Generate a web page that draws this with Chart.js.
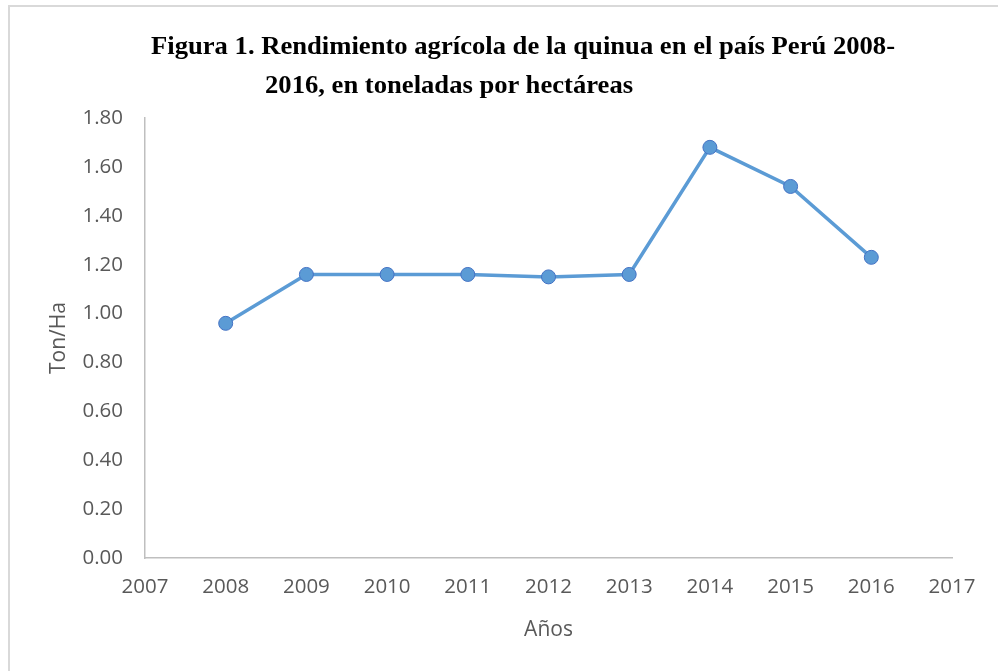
<!DOCTYPE html>
<html>
<head>
<meta charset="utf-8">
<script src="https://cdn.jsdelivr.net/npm/chart.js@4.4.1/dist/chart.umd.min.js"></script>
<style>
  html, body { margin:0; padding:0; background:#fff; }
  #wrap { position:relative; width:998px; height:671px; overflow:hidden; }
  #frame { position:absolute; left:8px; top:5px; width:1000px; height:700px; border:2px solid #D9D9D9; box-sizing:border-box; }
  .t { position:absolute; font-family:"Liberation Serif","Times New Roman",serif; font-weight:bold; font-size:25px; line-height:28px; color:#000; white-space:nowrap; transform-origin:left top; transform:scaleX(1.065); }
  canvas { position:absolute; left:0; top:0; }
</style>
</head>
<body>
<div id="wrap">
  <div id="frame"></div>
  <canvas id="c" width="998" height="671"></canvas>
  <div class="t" style="left:151px; top:32px;">Figura 1. Rendimiento agrícola de la quinua en el país Perú 2008-</div>
  <div class="t" style="left:265px; top:71px;">2016, en toneladas por hectáreas</div>
</div>
<script>
const years = [2008, 2009, 2010, 2011, 2012, 2013, 2014, 2015, 2016];
const yields = [0.96, 1.16, 1.16, 1.16, 1.15, 1.16, 1.68, 1.52, 1.23];
const xTitle = "Años";
const yTitle = "Ton/Ha";

const tickFont = { family: "'Open Sans', sans-serif", size: 20.5 };
const tickColor = "#595959";

new Chart(document.getElementById('c'), {
  type: 'line',
  data: {
    datasets: [{
      data: years.map((y, i) => ({ x: y, y: yields[i] })),
      borderColor: '#5B9BD5',
      borderWidth: 3.5,
      backgroundColor: '#5B9BD5',
      pointBackgroundColor: '#5B9BD5',
      pointBorderColor: '#4472C4',
      pointBorderWidth: 1,
      pointRadius: 7,
      tension: 0,
      fill: false
    }]
  },
  options: {
    responsive: false,
    animation: false,
    layout: { padding: { top: 118, right: 46, bottom: 0, left: 40 } },
    plugins: { legend: { display: false }, tooltip: { enabled: false }, title: { display: false } },
    scales: {
      x: {
        type: 'linear',
        min: 2007, max: 2017,
        grid: { display: false, drawTicks: false },
        border: { display: true, color: '#BFBFBF', width: 1.5 },
        ticks: { stepSize: 1, color: tickColor, font: tickFont, padding: 17,
                 callback: v => String(v) },
        title: { display: true, text: xTitle, color: tickColor,
                 font: { family: "'Open Sans', sans-serif", size: 21 }, padding: { top: 0, bottom: 28 } },
        afterFit: s => { s.height = 113; }
      },
      y: {
        min: 0, max: 1.8,
        grid: { display: false, drawTicks: false },
        border: { display: true, color: '#BFBFBF', width: 1.5 },
        ticks: { stepSize: 0.2, color: tickColor, font: tickFont, padding: 22,
                 callback: v => Number(v).toFixed(2) },
        title: { display: true, text: yTitle, color: tickColor,
                 font: { family: "'Open Sans', sans-serif", size: 21 }, padding: { top: 6, bottom: 0 } },
        afterFit: s => { s.width = 105; }
      }
    }
  }
});
</script>
</body>
</html>
